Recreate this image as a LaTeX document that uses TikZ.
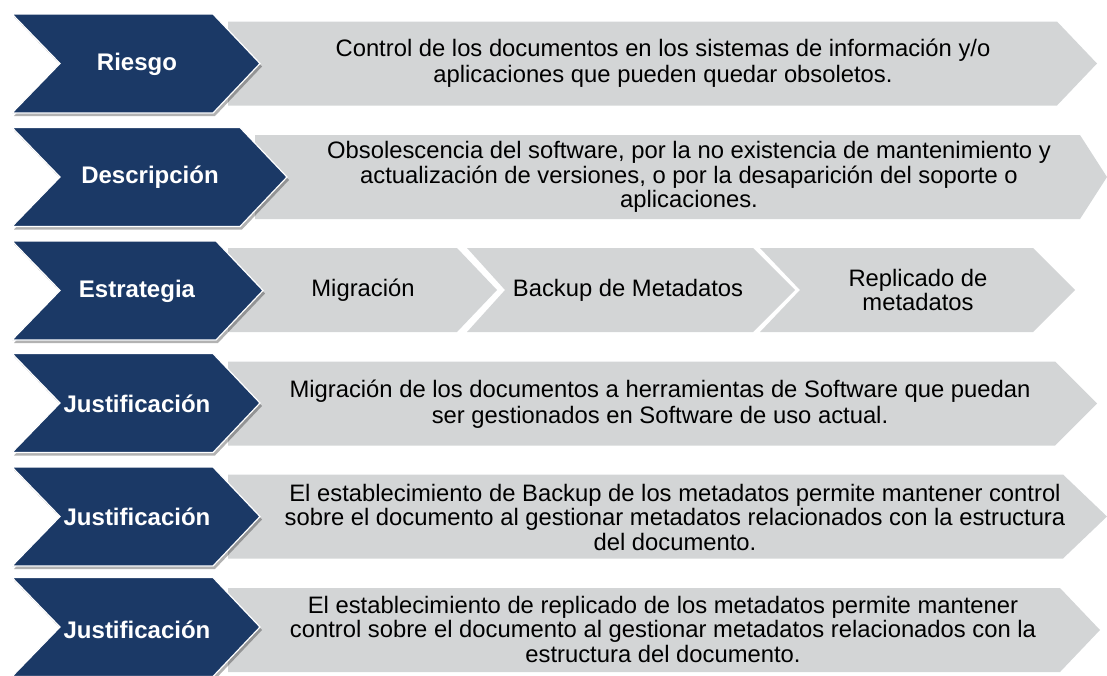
\documentclass[tikz,border=0pt]{standalone}
\usepackage{fontspec}
\setmainfont{Liberation Sans}
\usetikzlibrary{shadows}
\definecolor{navy}{RGB}{27,57,102}
\definecolor{lgray}{RGB}{211,213,214}
\tikzset{
  bluechev/.style={fill=navy, draw=white, line width=1.2pt,
    drop shadow={shadow xshift=2pt, shadow yshift=-3pt, opacity=0.3, fill=black}},
  graybox/.style={fill=lgray},
  btext/.style={text=white, font=\fontsize{24}{26}\selectfont\bfseries},
  gtext/.style={text=black, align=center, font=\fontsize{23.8}{24.5}\selectfont, inner sep=0pt},
  gtextwide/.style={gtext, font=\fontsize{23.8}{26.5}\selectfont},
}
% #1 centre y, #2 right top x
\newcommand\mybluechev[2]{%
  \path[bluechev] (12,#1-49.5) -- (#2,#1-49.5) -- (#2+47,#1) -- (#2,#1+49.5) -- (12,#1+49.5) -- (60,#1) -- cycle;}
% #1 centre y, #2 left x, #3 right top x, #4 tip x
\newcommand\mygraybox[4]{%
  \path[graybox] (#2,#1-42) -- (#3,#1-42) -- (#4,#1) -- (#3,#1+42) -- (#2,#1+42) -- cycle;}
% chevron with notch: #1 centre y, #2 left x, #3 notch x, #4 right top x, #5 tip x
\newcommand\mygraychev[5]{%
  \path[graybox] (#2,#1-42) -- (#4,#1-42) -- (#5,#1) -- (#4,#1+42) -- (#2,#1+42) -- (#3,#1) -- cycle;}
\begin{document}
\begin{tikzpicture}[x=1pt,y=-1pt]
\useasboundingbox (0,0) rectangle (1107,675);
\begin{scope}
\clip (0,0) rectangle (1107,675);
% gray boxes
\mygraybox{63.5}{228}{1057}{1097}
\mygraybox{177}{255}{1080}{1107}
\mygraybox{290}{228}{457}{497}
\mygraychev{290}{467}{505}{753}{795}
\mygraychev{290}{760}{800}{1033}{1075}
\mygraybox{403.5}{228}{1055}{1097}
\mygraybox{516.5}{228}{1063}{1107}
\mygraybox{630}{228}{1060}{1100}
% blue chevrons
\mybluechev{63.5}{213}
\mybluechev{177}{240}
\mybluechev{290.5}{216}
\mybluechev{403}{213}
\mybluechev{516.5}{213}
\mybluechev{627}{213}
\end{scope}
% blue labels
\node[btext] (l1) at (137,64) {Riesgo};
\node[btext] (l2) at (150,177) {Descripción};
\node[btext] (l3) at (137,291) {Estrategia};
\node[btext] (l4) at (137,404) {Justificación};
\node[btext] (l5) at (137,517) {Justificación};
\node[btext] (l6) at (137,630) {Justificación};
% gray texts
\node[gtextwide] (t1) at (663,63) {Control de los documentos en los sistemas de información y/o\\aplicaciones que pueden quedar obsoletos.};
\node[gtext] (t2) at (689,177) {Obsolescencia del software, por la no existencia de mantenimiento y\\actualización de versiones, o por la desaparición del soporte o\\aplicaciones.};
\node[gtext] (s1) at (363,290) {Migración};
\node[gtext] (s2) at (628,290) {Backup de Metadatos};
\node[gtext] (s3) at (918,290) {Replicado de\\metadatos};
\node[gtextwide] (t4) at (660,404) {Migración de los documentos a herramientas de Software que puedan\\ser gestionados en Software de uso actual.};
\node[gtext] (t5) at (675,517) {El establecimiento de Backup de los metadatos permite mantener control\\sobre el documento al gestionar metadatos relacionados con la estructura\\del documento.};
\node[gtext] (t6) at (663,629) {El establecimiento de replicado de los metadatos permite mantener\\control sobre el documento al gestionar metadatos relacionados con la\\estructura del documento.};
\end{tikzpicture}
\end{document}
